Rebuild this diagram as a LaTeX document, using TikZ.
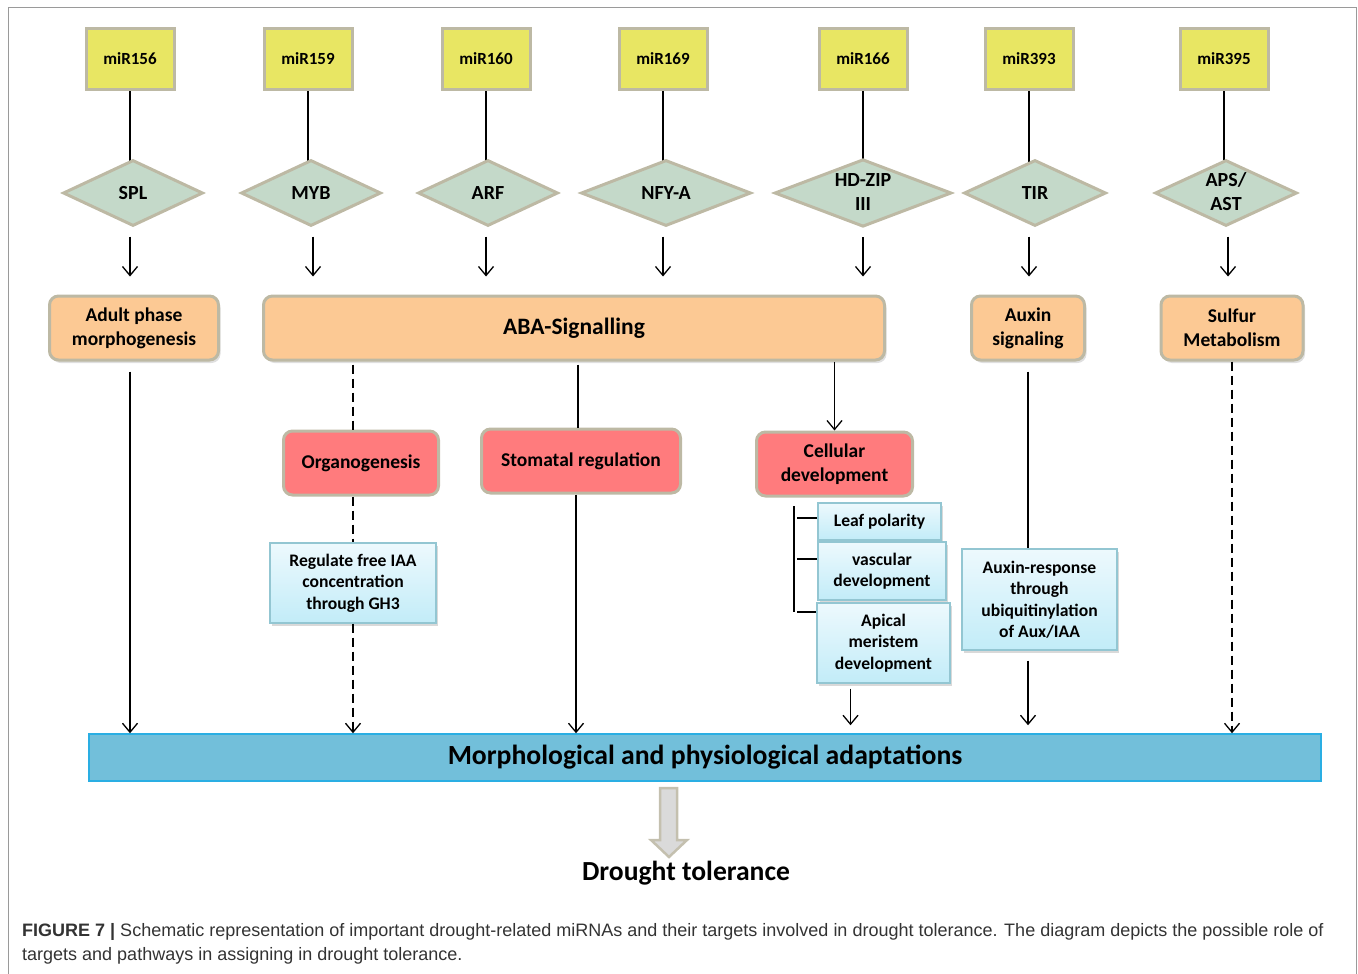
\documentclass[tikz,border=0pt]{standalone}
\usepackage{fontspec}
\setmainfont{Carlito}
\newfontfamily\capfont{Liberation Sans}
\usetikzlibrary{shapes.geometric,arrows.meta,shadows,backgrounds,calc}
\definecolor{ybox}{HTML}{E8E663}
\definecolor{bord}{HTML}{BDB9A4}
\definecolor{dfill}{HTML}{C4D9C9}
\definecolor{ofill}{HTML}{FCC994}
\definecolor{rfill}{HTML}{FF7B7D}
\definecolor{bbar}{HTML}{72BFDA}
\definecolor{bbord}{HTML}{2AAEE3}
\definecolor{lbtop}{HTML}{EDF9FD}
\definecolor{lbbot}{HTML}{C2ECF8}
\definecolor{lbbord}{HTML}{93C6D2}
\definecolor{framecol}{HTML}{9A9A9A}
\definecolor{capcol}{HTML}{333333}
\definecolor{afill}{HTML}{DADADA}
\definecolor{abord}{HTML}{C4C0AF}
\newcommand{\twoline}[2]{\raisebox{-11pt}{\smash{\begin{tabular}{@{}c@{}}#1\\#2\end{tabular}}}}
\begin{document}
\begin{tikzpicture}[x=1pt,y=-1pt,
 mir/.style={draw=bord, line width=3pt, fill=ybox, minimum width=88pt, minimum height=61pt, inner sep=0pt, font=\bfseries\fontsize{17}{20}\selectfont},
 dia/.style={diamond, draw=bord, line width=3pt, fill=dfill, minimum height=66pt, inner sep=0pt, font=\bfseries\fontsize{20}{24}\selectfont},
 obox/.style={draw=bord, line width=3pt, fill=ofill, rounded corners=9pt, minimum height=64pt, inner sep=0pt, align=center, font=\bfseries\fontsize{19.5}{24}\selectfont, drop shadow={opacity=0.25, shadow xshift=2pt, shadow yshift=-3pt}},
 rbox/.style={draw=bord, line width=3pt, fill=rfill, rounded corners=9pt, minimum height=64pt, inner sep=0pt, align=center, font=\bfseries\fontsize{19.5}{24}\selectfont},
 lbox/.style={draw=lbbord, line width=1.2pt, top color=lbtop, bottom color=lbbot, inner sep=0pt, align=center, font=\bfseries\fontsize{17.6}{21.5}\selectfont, drop shadow={opacity=0.3, shadow xshift=2pt, shadow yshift=-3pt}},
 conn/.style={line width=1.3pt, black},
 arr/.style={conn, -{Straight Barb[length=9pt,width=15pt,line width=1.3pt]}},
 dline/.style={conn, dash pattern=on 9pt off 5pt},
]
\useasboundingbox (0,0) rectangle (1358,974);
\draw[framecol, line width=1pt] (8,974) -- (8,8) -- (1356,8) -- (1356,974);

% miRNA boxes
\node[mir] (m1) at (130,59) {miR156};
\node[mir] (m2) at (308,59) {miR159};
\node[mir] (m3) at (486,59) {miR160};
\node[mir] (m4) at (663,59) {miR169};
\node[mir] (m5) at (863,59) {miR166};
\node[mir] (m6) at (1029,59) {miR393};
\node[mir] (m7) at (1224,59) {miR395};

% targets
\node[dia, minimum width=140pt] (d1) at (133,193) {SPL};
\node[dia, minimum width=140pt] (d2) at (311,193) {MYB};
\node[dia, minimum width=140pt] (d3) at (488,193) {ARF};
\node[dia, minimum width=170pt] (d4) at (666,193) {NFY-A};
\node[dia, minimum width=177pt] (d5) at (863,193) {\twoline{HD-ZIP}{III}};
\node[dia, minimum width=142pt] (d6) at (1035,193) {TIR};
\node[dia, minimum width=142pt] (d7) at (1226,193) {\twoline{APS/}{AST}};

% pathways
\node[obox, minimum width=169pt] (o1) at (134,328) {Adult phase\\morphogenesis};
\node[obox, minimum width=621pt, font=\bfseries\fontsize{23.5}{26}\selectfont] (aba) at (574,328) {ABA-Signalling};
\node[obox, minimum width=113pt] (as) at (1028,328) {Auxin\\signaling};
\node[obox, minimum width=142pt] (su) at (1232,328) {Sulfur\\Metabolism};

\node[rbox, minimum width=155pt] (og) at (361,463) {Organogenesis};
\node[rbox, minimum width=199pt] (st) at (581,461) {Stomatal regulation};
\node[rbox, minimum width=156pt] (cd) at (834.5,464) {Cellular\\development};

\node[lbox, minimum width=166pt, minimum height=80pt] (rg) at (353,583) {Regulate free IAA\\concentration\\through GH3};
\node[lbox, minimum width=123pt, minimum height=37pt] (lp) at (879.5,521.5) {Leaf polarity};
\node[lbox, minimum width=128pt, minimum height=58pt] (vd) at (882,571) {vascular\\development};
\node[lbox, minimum width=133pt, minimum height=80pt] (am) at (883.5,643) {Apical\\meristem\\development};
\node[lbox, minimum width=155pt, minimum height=101pt] (ar) at (1039.5,599.5) {Auxin-response\\through\\ubiquitinylation\\of Aux/IAA};

\node[draw=bbord, line width=1.5pt, fill=bbar, minimum width=1232pt, minimum height=47pt, inner sep=0pt, font=\bfseries\fontsize{27.7}{30}\selectfont] (bar) at (705,757.5) {Morphological and physiological adaptations};

\node[font=\bfseries\fontsize{27.6}{30}\selectfont] (dt) at (686,873) {Drought tolerance};

\begin{scope}[on background layer]
\foreach \i in {1,...,7} {\draw[conn] (m\i.south) -- (m\i.south |- d\i.center);}
\end{scope}

% small arrows target -> pathway
\draw[arr, shorten <=9pt, shorten >=18pt] ([xshift=-3pt]d1.south) -- ([xshift=-3pt]d1.south |- o1.north);
\draw[arr, shorten <=9pt, shorten >=18pt] ([xshift=2pt]d2.south) -- ([xshift=2pt]d2.south |- aba.north);
\draw[arr, shorten <=9pt, shorten >=18pt] ([xshift=-2pt]d3.south) -- ([xshift=-2pt]d3.south |- aba.north);
\draw[arr, shorten <=9pt, shorten >=18pt] ([xshift=-3pt]d4.south) -- ([xshift=-3pt]d4.south |- aba.north);
\draw[arr, shorten <=9pt, shorten >=18pt] (d5.south) -- (d5.south |- aba.north);
\draw[arr, shorten <=9pt, shorten >=18pt] ([xshift=-6pt]d6.south) -- ([xshift=-6pt]d6.south |- as.north);
\draw[arr, shorten <=9pt, shorten >=18pt] ([xshift=2pt]d7.south) -- ([xshift=2pt]d7.south |- su.north);

% downstream connectors
\draw[arr, shorten <=10pt] ([xshift=-4pt]o1.south) -- ([xshift=-4pt]o1.south |- bar.north);
\draw[dline, shorten <=3pt] (aba.south -| rg.north) -- (og.north -| rg.north);
\draw[dline] (og.south -| rg.north) -- (rg.north);
\draw[dline, -{Straight Barb[length=9pt,width=15pt,line width=1.3pt]}] (rg.south) -- (rg.south |- bar.north);
\draw[conn, shorten <=3pt] ([xshift=-3pt]st.north |- aba.south) -- ([xshift=-3pt]st.north);
\draw[arr] ([xshift=-5pt]st.south) -- ([xshift=-5pt]st.south |- bar.north);
\draw[arr] (cd.north |- aba.south) -- (cd.north);
\coordinate (bt) at (794,506);
\coordinate (bb) at (794,612);
\coordinate (t1) at (797,518);
\coordinate (t2) at (797,559);
\coordinate (t3) at (797,612);
\draw[conn] (bt) -- (bb);
\draw[conn] (t1) -- (t1 -| lp.west);
\draw[conn] (t2) -- (t2 -| vd.west);
\draw[conn] (t3) -- (t3 -| am.west);
\draw[arr, shorten <=5pt, shorten >=8pt] ([xshift=-33pt]am.south) -- ([xshift=-33pt]am.south |- bar.north);
\draw[conn, shorten <=10pt] (as.south) -- (as.south |- ar.north);
\draw[arr, shorten <=10pt, shorten >=8pt] (as.south |- ar.south) -- (as.south |- bar.north);
\draw[dline, -{Straight Barb[length=9pt,width=15pt,line width=1.3pt]}] (su.south) -- (su.south |- bar.north);

% block arrow bar -> drought tolerance
\draw[draw=abord, fill=afill, line width=2.5pt, line join=miter] (660,788) -- (677,788) -- (677,840) -- (687,840) -- (669,857) -- (651,840) -- (660,840) -- cycle;

% caption
\node[anchor=base west, align=left, inner sep=0pt, text=capcol, font=\capfont\fontsize{18}{24}\selectfont] (cap) at (22,960) {\textbf{FIGURE 7 |} Schematic representation of important drought-related miRNAs and their targets involved in drought tolerance. The diagram depicts the possible role of\\targets and pathways in assigning in drought tolerance.};
\end{tikzpicture}
\end{document}
